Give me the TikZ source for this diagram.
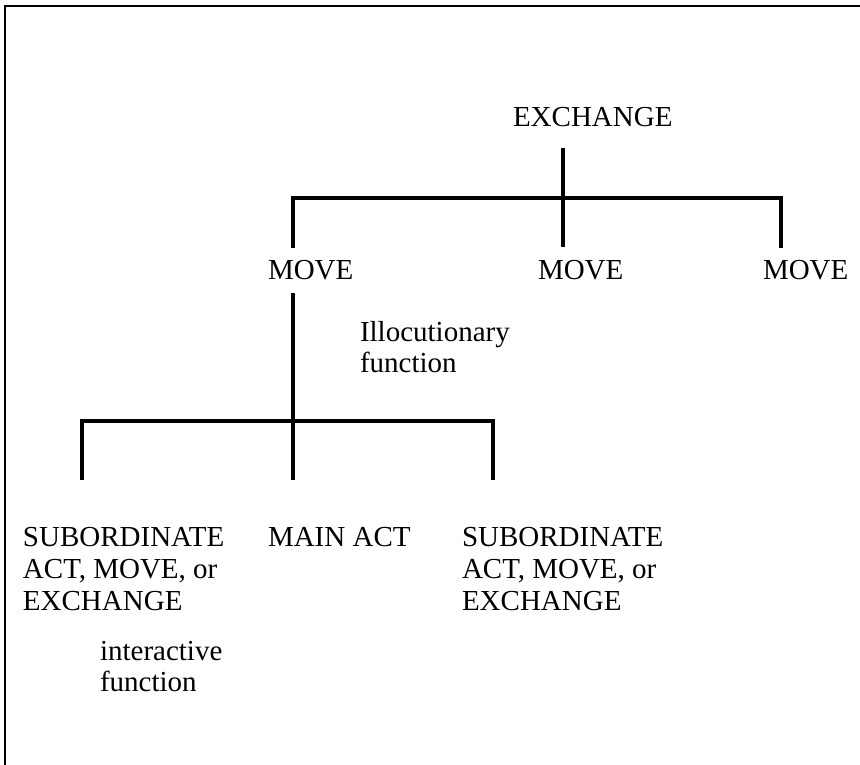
\documentclass[tikz,border=0pt]{standalone}
\usepackage{fontspec}
\setmainfont{Liberation Serif}
\usepackage{tikz}
\usetikzlibrary{positioning,calc}

\begin{document}
\begin{tikzpicture}[x=1pt, y=-1pt,
  word/.style={inner sep=0pt, outer sep=0pt, anchor=base west, font=\fontsize{29}{32}\selectfont},
  block/.style={inner sep=0pt, outer sep=0pt, anchor=north west, align=left, font=\fontsize{29}{#1}\selectfont},
  branch/.style={line width=3.5pt, line join=miter},
  frame/.style={line width=2.4pt}]
\useasboundingbox (0,0) rectangle (860,765);
\draw[frame] (5,765) |- (860,6);
\node[word] (exchange) at (513,127) {EXCHANGE};
\node[word] (move1) at (268,279) {MOVE};
\node[word] (move2) at (538,279) {MOVE};
\node[word] (move3) at (763,279) {MOVE};
\node[block=31] (illoc) at (360,321) {Illocutionary\\function};
\node[block=32] (subl) at (23,527) {SUBORDINATE\\ACT, MOVE, or\\EXCHANGE};
\node[word] (mainact) at (268,546) {MAIN ACT};
\node[block=32] (subr) at (462,527) {SUBORDINATE\\ACT, MOVE, or\\EXCHANGE};
\node[block=31] (inter) at (100,641) {interactive\\function};
\coordinate (fork) at (563,198);
\coordinate (lmove) at (293,198);
\coordinate (rmove) at (781,198);
\coordinate (ljoin) at (82,421);
\coordinate (rjoin) at (493,421);
\draw[branch, shorten <=21pt, shorten >=13pt] (exchange.south -| fork) -- (move2.north -| fork);
\draw[branch, shorten <=12pt, shorten >=12pt] (move1.north -| lmove) |- (rmove) -- (move3.north -| rmove);
\draw[branch, shorten <=14pt, shorten >=47pt] (move1.south -| lmove) -- (mainact.north -| lmove);
\draw[branch, shorten <=47pt, shorten >=47pt] (subl.north -| ljoin) |- (rjoin) -- (subr.north -| rjoin);
\end{tikzpicture}
\end{document}
